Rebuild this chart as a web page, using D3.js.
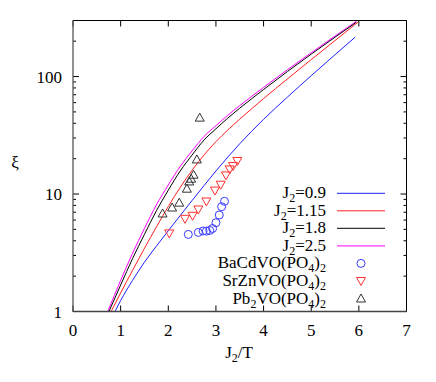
<!DOCTYPE html>
<html>
<head>
<meta charset="utf-8">
<script src="https://cdn.jsdelivr.net/npm/d3@7"></script>
<style>
  body { margin: 0; background: #fff; }
  text { font-family: "Liberation Serif", "DejaVu Serif", serif; }
</style>
</head>
<body>
<svg id="chart" width="436" height="382"></svg>
<script>

// Model curves, one array pair per J2 value
const j09X  = [0.88, 1, 1.25, 1.5, 1.75, 2, 2.5, 3, 3.5, 4, 4.5, 5, 5.5, 5.92];
const j09Y  = [1, 1.24, 1.84, 2.63, 3.60, 4.87, 8.81, 15.7, 26.8, 43.2, 66.8, 101.7, 153.5, 215.8];
const j115X = [0.80, 1, 1.25, 1.5, 1.75, 2, 2.25, 2.5, 2.75, 3, 3.25, 3.5, 4, 4.5, 5, 5.5, 5.98];
const j115Y = [1, 1.44, 2.24, 3.45, 5.24, 7.83, 11.39, 15.94, 21.5, 27.9, 35.1, 43.4, 64.9, 95.5, 139.3, 202.5, 290];
const j18X  = [0.755, 1, 1.25, 1.5, 1.75, 2, 2.25, 2.5, 2.75, 3, 3.25, 3.5, 4, 4.5, 5, 5.5, 5.95];
const j18Y  = [1, 1.68, 2.82, 4.54, 7.20, 10.78, 15.7, 21.5, 28.8, 35.9, 44.3, 53.8, 77.5, 110.3, 155.1, 216.3, 290.4];
const j25X  = [0.73, 1, 1.25, 1.5, 1.75, 2, 2.25, 2.5, 2.75, 3, 3.25, 3.5, 4, 4.5, 5, 5.5, 5.95];
const j25Y  = [1, 1.84, 3.13, 5.10, 8.08, 11.95, 17.2, 23.3, 30.9, 38.2, 46.9, 56.6, 80.8, 114.2, 159.4, 221.3, 295.8];

// Experimental points
const bacdX = [2.42, 2.63, 2.73, 2.80, 2.87, 2.93, 3.00, 3.07, 3.12, 3.18];
const bacdY = [4.53, 4.71, 4.85, 4.83, 4.90, 5.09, 5.70, 6.63, 7.80, 8.67];
const srznX = [2.02, 2.35, 2.51, 2.63, 2.80, 2.98, 3.10, 3.21, 3.29, 3.36, 3.45];
const srznY = [4.62, 6.15, 6.53, 7.39, 8.64, 10.7, 12.0, 14.4, 16.2, 17.3, 19.1];
const pbX   = [1.88, 2.08, 2.23, 2.39, 2.44, 2.48, 2.53, 2.60, 2.66];
const pbY   = [6.83, 7.68, 8.44, 11.1, 12.8, 13.5, 14.6, 19.7, 44.7];

// Axis ticks
const xTicks = [0, 1, 2, 3, 4, 5, 6, 7];
const yTicks = [1, 10, 100];

const svg = d3.select('#chart');
const plotLeft = 73, plotRight = 406.5, plotTop = 20.5, plotBottom = 311.5;

const x = d3.scaleLinear().domain([0, 7]).range([plotLeft, plotRight]);
const y = d3.scaleLog().domain([1, 300]).range([plotBottom, plotTop]);

const fontSize = 17;
const subSize = 12;

svg.append('defs').append('clipPath').attr('id', 'plotclip')
  .append('rect')
  .attr('x', plotLeft).attr('y', plotTop)
  .attr('width', plotRight - plotLeft).attr('height', plotBottom - plotTop);

// Minor log ticks
const minor = [];
[1, 10, 100].forEach(d => {
  for (let k = 2; k <= 9; k++) {
    const v = d * k;
    if (v <= 300) minor.push(v);
  }
});

const axes = svg.append('g').attr('stroke', '#000').attr('stroke-width', 1);

// y ticks on left and right
yTicks.forEach(v => {
  axes.append('line').attr('x1', plotLeft).attr('x2', plotLeft + 6).attr('y1', y(v)).attr('y2', y(v));
  axes.append('line').attr('x1', plotRight).attr('x2', plotRight - 6).attr('y1', y(v)).attr('y2', y(v));
});
minor.forEach(v => {
  axes.append('line').attr('x1', plotLeft).attr('x2', plotLeft + 3).attr('y1', y(v)).attr('y2', y(v));
  axes.append('line').attr('x1', plotRight).attr('x2', plotRight - 3).attr('y1', y(v)).attr('y2', y(v));
});

// x ticks bottom and top
xTicks.forEach(v => {
  axes.append('line').attr('x1', x(v)).attr('x2', x(v)).attr('y1', plotBottom).attr('y2', plotBottom - 6);
  axes.append('line').attr('x1', x(v)).attr('x2', x(v)).attr('y1', plotTop).attr('y2', plotTop + 6);
});

// Tick labels
svg.append('g').selectAll('text')
  .data(xTicks)
  .join('text')
  .attr('x', d => x(d))
  .attr('y', 336)
  .attr('text-anchor', 'middle')
  .attr('font-size', fontSize)
  .text(d => d);

svg.append('g').selectAll('text')
  .data(yTicks)
  .join('text')
  .attr('x', 62)
  .attr('y', d => y(d) + 6)
  .attr('text-anchor', 'end')
  .attr('font-size', fontSize)
  .text(d => d);

// Axis titles
svg.append('text')
  .attr('x', 15).attr('y', 168)
  .attr('text-anchor', 'middle')
  .attr('font-size', fontSize)
  .text('ξ');

const xt = svg.append('text')
  .attr('x', 239).attr('y', 358)
  .attr('text-anchor', 'middle')
  .attr('font-size', fontSize);
xt.append('tspan').text('J');
xt.append('tspan').attr('font-size', subSize).attr('dy', 4).text('2');
xt.append('tspan').attr('dy', -4).text('/T');

// Curves
const lines = [
  {name: '0.9',  xs: j09X,  ys: j09Y,  color: '#2020ff'},
  {name: '1.15', xs: j115X, ys: j115Y, color: '#ff2020'},
  {name: '1.8',  xs: j18X,  ys: j18Y,  color: '#000000'},
  {name: '2.5',  xs: j25X,  ys: j25Y,  color: '#ff00ff'}
];

const line = d3.line()
  .x(d => x(d[0]))
  .y(d => y(d[1]))
  .curve(d3.curveMonotoneX);

const plot = svg.append('g').attr('clip-path', 'url(#plotclip)');
lines.slice().reverse().forEach(s => {
  plot.append('path')
    .attr('d', line(d3.zip(s.xs, s.ys)))
    .attr('fill', 'none')
    .attr('stroke', s.color)
    .attr('stroke-width', 1);
});

// Markers
const triUp = 'M0,-4.5L4.5,3.5L-4.5,3.5Z';
const triDown = 'M0,4.5L4.5,-3.5L-4.5,-3.5Z';

plot.append('g').selectAll('circle')
  .data(d3.zip(bacdX, bacdY))
  .join('circle')
  .attr('cx', d => x(d[0])).attr('cy', d => y(d[1]))
  .attr('r', 4)
  .attr('fill', 'none').attr('stroke', '#3a3aff').attr('stroke-width', 1);

plot.append('g').selectAll('path')
  .data(d3.zip(srznX, srznY))
  .join('path')
  .attr('d', triDown)
  .attr('transform', d => `translate(${x(d[0])},${y(d[1])})`)
  .attr('fill', 'none').attr('stroke', '#ff3030').attr('stroke-width', 1);

plot.append('g').selectAll('path')
  .data(d3.zip(pbX, pbY))
  .join('path')
  .attr('d', triUp)
  .attr('transform', d => `translate(${x(d[0])},${y(d[1])})`)
  .attr('fill', 'none').attr('stroke', '#333').attr('stroke-width', 1);

// Legend
const legX = 326, legLine0 = 337, legLine1 = 385, legSym = 361;
const rowY = [193.3, 210.8, 228.3, 245.9, 263.4, 281, 298.5];

lines.forEach((s, i) => {
  const t = svg.append('text')
    .attr('x', legX).attr('y', rowY[i] + 5)
    .attr('text-anchor', 'end')
    .attr('font-size', fontSize);
  t.append('tspan').text('J');
  t.append('tspan').attr('font-size', subSize).attr('dy', 4).text('2');
  t.append('tspan').attr('dy', -4).text('=' + s.name);
  svg.append('line')
    .attr('x1', legLine0).attr('x2', legLine1)
    .attr('y1', rowY[i]).attr('y2', rowY[i])
    .attr('stroke', s.color).attr('stroke-width', 1);
});

function compound(t, parts) {
  // parts: [text, isSub]
  let shifted = false;
  parts.forEach(p => {
    const ts = t.append('tspan').text(p[0]);
    if (p[1] && !shifted) { ts.attr('font-size', subSize).attr('dy', 4); shifted = true; }
    else if (p[1] && shifted) { ts.attr('font-size', subSize); }
    else if (!p[1] && shifted) { ts.attr('dy', -4); shifted = false; }
  });
}

const names = [
  [['BaCdVO(PO', 0], ['4', 1], [')', 0], ['2', 1]],
  [['SrZnVO(PO', 0], ['4', 1], [')', 0], ['2', 1]],
  [['Pb', 0], ['2', 1], ['VO(PO', 0], ['4', 1], [')', 0], ['2', 1]]
];
names.forEach((n, i) => {
  const t = svg.append('text')
    .attr('x', legX).attr('y', rowY[i + 4] + 5)
    .attr('text-anchor', 'end')
    .attr('font-size', fontSize);
  compound(t, n);
});

svg.append('circle')
  .attr('cx', legSym).attr('cy', rowY[4]).attr('r', 4)
  .attr('fill', 'none').attr('stroke', '#3a3aff');
svg.append('path')
  .attr('d', triDown)
  .attr('transform', `translate(${legSym},${rowY[5]})`)
  .attr('fill', 'none').attr('stroke', '#ff3030');
svg.append('path')
  .attr('d', triUp)
  .attr('transform', `translate(${legSym},${rowY[6]})`)
  .attr('fill', 'none').attr('stroke', '#333');

// Frame: top/right crisp black, left/bottom softer like the original
const frame = svg.append('g').attr('fill', 'none');
frame.append('line').attr('x1', plotLeft).attr('x2', plotRight).attr('y1', plotTop).attr('y2', plotTop)
  .attr('stroke', '#000');
frame.append('line').attr('x1', plotRight).attr('x2', plotRight).attr('y1', plotTop).attr('y2', plotBottom)
  .attr('stroke', '#000');
frame.append('line').attr('x1', plotLeft).attr('x2', plotLeft).attr('y1', plotTop).attr('y2', plotBottom + 0.5)
  .attr('stroke', '#555').attr('stroke-width', 1.3);
frame.append('line').attr('x1', plotLeft).attr('x2', plotRight).attr('y1', plotBottom).attr('y2', plotBottom)
  .attr('stroke', '#444').attr('stroke-width', 1.3);

</script>
</body>
</html>
